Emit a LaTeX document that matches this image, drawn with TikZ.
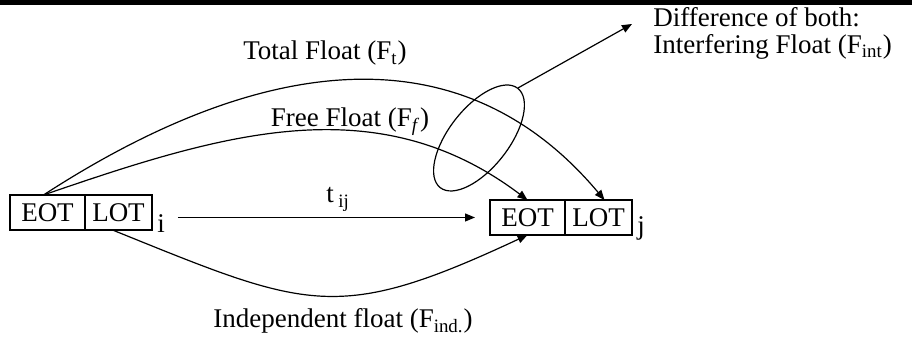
\documentclass[tikz,border=0pt]{standalone}
\usepackage{fontspec}
\setmainfont{Liberation Serif}
\usetikzlibrary{positioning,arrows.meta,shapes.geometric}
\tikzset{
  cell/.style={draw,rectangle,line width=0.9pt,minimum height=17.5pt,inner sep=0pt,outer sep=0pt},
  arr/.style={-{Triangle[length=5pt,width=4pt]},line width=0.6pt},
  lbl/.style={inner sep=0pt,anchor=base}
}
\begin{document}
\begin{tikzpicture}[x=0.5pt,y=0.5pt,font=\fontsize{13.5}{13.5}\selectfont]
\useasboundingbox (0,0) rectangle (912,340);
\fill (0,335) rectangle (912,340);

% event i
\node[cell,minimum width=37.5pt] (eoti) at (47.5,127.5) {EOT};
\node[cell,minimum width=33.5pt,right=0pt of eoti] (loti) {LOT};
\node[lbl,anchor=base west] (labi) at (157,107) {i};

% event j
\node[cell,minimum width=37.5pt] (eotj) at (527.5,122.5) {EOT};
\node[cell,minimum width=33.5pt,right=0pt of eotj] (lotj) {LOT};
\node[lbl,anchor=base west] (labj) at (637,105) {j};

% activity and floats
\draw[arr,shorten <=6.25pt,shorten >=7.5pt] (eotj.west -| labi.east) -- (eotj.west);
\node[lbl] (tij) at (338,137) {t\,\textsubscript{ij}};

\draw[arr] ([xshift=-2pt]eoti.north) to[out=33,in=130,looseness=1.08] ([xshift=3pt]lotj.north);
\draw[arr] ([xshift=-2pt]eoti.north) to[out=19,in=143] (eotj.north);
\draw[arr] ([xshift=-3pt]loti.south) to[out=-22,in=-155,looseness=1.3] (eotj.south);

\node[lbl] (tf) at (325,280) {Total Float (F\textsubscript{t})};
\node[lbl] (ff) at (350,213) {Free Float (F\textsubscript{\textit{f}})};
\node[lbl] (indf) at (343,12) {Independent float (F\textsubscript{ind.})};

% interfering float
\node[draw,ellipse,rotate=52,minimum width=63pt,minimum height=30pt,inner sep=0pt,line width=0.6pt] (intf) at (479,202) {};
\coordinate (tip) at (632,316);
\draw[arr] (intf.east) -- (tip);
\node[inner sep=0pt,anchor=north west,align=left] (difftxt) at (653,333) {Difference of both:\\Interfering Float (F\textsubscript{int})};

\end{tikzpicture}
\end{document}
